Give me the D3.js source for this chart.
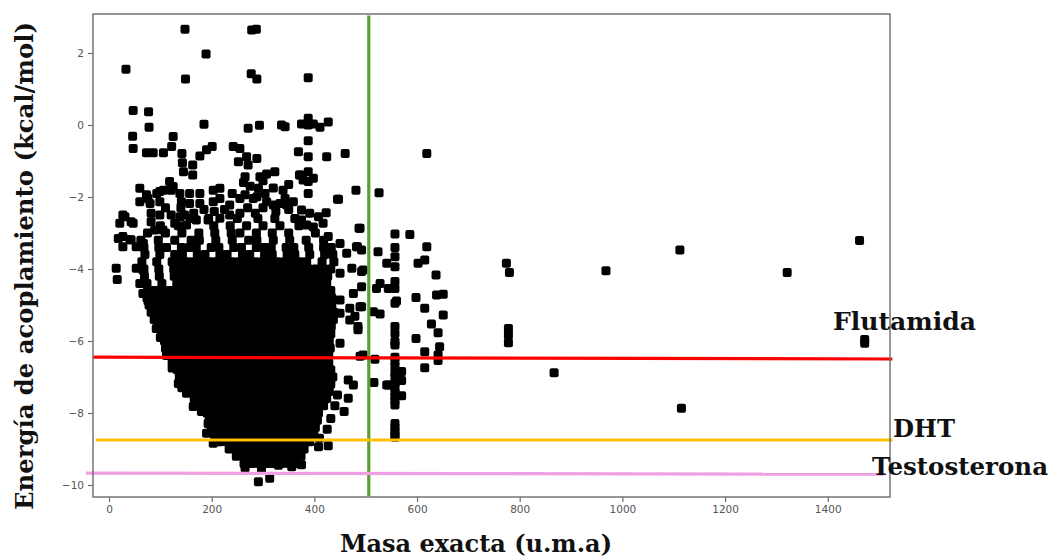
<!DOCTYPE html>
<html>
<head>
<meta charset="utf-8">
<script src="https://cdn.jsdelivr.net/npm/d3@7"></script>
<style>
  body { margin: 0; background: #fff; }
  svg { display: block; }
</style>
</head>
<body>
<svg id="chart" width="1051" height="559"></svg>
<script>
// Docking energy (kcal/mol) against exact mass (u.m.a) for the screened compounds.

// Isolated compounds in the upper part of the plot: [mass, energy]
const upperPoints = [
  [148,2.66],[278,2.64],[287,2.66],[189,1.97],[33,1.55],[149,1.28],[277,1.42],[288,1.28],[388,1.31],
  [47,0.40],[77,0.37],[78,-0.06],[46,-0.31],[47,-0.65],[185,0.02],[271,-0.09],[293,-0.01],[336,0.0],
  [343,-0.05],[375,0.03],[388,0.19],[388,0.0],[398,0.03],[411,-0.06],[427,0.08],[388,-0.44],
  [73,-0.77],[86,-0.77],[106,-0.77],[122,-0.60],[125,-0.32],[142,-0.79],[143,-1.05],[145,-1.30],
  [163,-1.11],[163,-1.39],[177,-0.86],[190,-0.69],[201,-0.60],[242,-0.60],[255,-0.65],[252,-1.02],
  [268,-0.88],[271,-1.11],[288,-0.93],[265,-1.44],[294,-1.44],[307,-1.36],[323,-1.30],
  [369,-0.74],[388,-0.88],[424,-0.88],[460,-0.79],[371,-1.39],[388,-1.30],[398,-1.48],[378,-1.53],
  [388,-1.57],[619,-0.79],[481,-1.81],[447,-2.06],[489,-2.87],[484,-3.38],[492,-3.47]
];

// Scattered compounds around the top and left rim of the main cloud: [mass, energy]
const rimPoints = [
  [118,-1.57],[125,-1.71],[60,-1.76],[73,-1.94],[60,-2.13],[99,-1.85],[99,-2.13],[76,-2.04],[80,-2.18],
  [93,-1.90],[106,-1.81],[121,-1.81],[138,-1.90],[141,-2.13],[157,-1.90],[157,-2.18],[177,-1.90],
  [177,-2.18],[203,-1.81],[203,-2.13],[216,-1.76],[216,-2.04],[235,-2.22],[255,-2.04],[240,-1.90],
  [291,-1.76],[288,-1.99],[304,-1.90],[307,-2.13],[339,-1.81],[343,-2.04],[359,-2.13],[320,-2.22],
  [333,-2.18],[346,-2.22],[265,-1.94],[281,-2.04],[262,-1.60],[275,-1.70],[300,-1.55],[320,-1.75],
  [350,-1.65],[372,-1.39],[388,-1.90],[445,-2.06],
  [27,-2.50],[21,-2.73],[43,-2.69],[31,-2.55],[47,-2.73],[82,-2.45],[82,-2.69],[99,-2.50],[89,-2.92],
  [105,-2.92],[121,-2.50],[128,-2.73],[138,-2.55],[147,-2.50],[151,-2.78],[170,-2.64],[193,-2.64],
  [216,-2.59],[235,-2.50],[255,-2.45],[110,-2.30],[140,-2.30],[165,-2.45],[185,-2.35],[205,-2.40],
  [225,-2.35],[270,-2.30],[285,-2.45],[300,-2.30],[325,-2.40],[350,-2.35],
  [375,-2.36],[391,-2.45],[408,-2.55],[423,-2.44],[375,-2.64],[385,-2.78],[398,-2.83],[417,-2.73],
  [427,-3.10],[450,-3.29],[463,-3.56],[482,-3.38],[487,-2.87],
  [27,-3.10],[27,-3.38],[43,-3.19],[53,-3.38],[18,-3.15],[41,-3.19],[67,-3.29],[14,-3.98],[16,-4.29],
  [53,-3.98],[66,-4.03],[60,-4.40],[66,-4.68],[76,-4.89],[89,-5.17],[89,-5.36],[92,-5.65],[100,-5.90],
  [112,-6.30],[123,-6.75],[132,-6.71],[135,-7.18],[142,-7.30],[151,-7.45],[164,-7.82],[180,-7.96]
];

// Compounds on the right and lower rim of the main cloud: [mass, energy]
const edgePoints = [
  [450,-4.12],[473,-3.98],[492,-4.07],[492,-4.49],[476,-4.68],[450,-4.86],[430,-4.95],[479,-5.31],
  [469,-5.09],[450,-5.23],[489,-5.05],[469,-5.42],[485,-5.60],[450,-6.06],[485,-5.69],[489,-6.42],
  [466,-7.08],[476,-7.22],[466,-7.59],[458,-7.96],[445,-7.50],[440,-7.80],[432,-8.15],[425,-8.45],
  [410,-8.70],[408,-8.94],[427,-8.91],[375,-8.98],[375,-9.44],[356,-9.49],[291,-9.91],[313,-9.81],
  [265,-9.52],[297,-9.55],[330,-9.45],[203,-8.84],[193,-8.29],[190,-8.56]
];

// Heavier compounds, beyond the mass cut-off: [mass, energy]
const heavyPoints = [
  [526,-1.88],[557,-3.03],[557,-3.40],[557,-3.66],[557,-3.94],[586,-3.04],[619,-3.38],[524,-3.52],
  [541,-3.84],[602,-3.84],[615,-3.75],[637,-4.17],[495,-4.03],[557,-4.35],[557,-4.54],[544,-4.54],
  [521,-4.54],[528,-4.40],[557,-4.95],[560,-4.89],[598,-4.79],[638,-4.72],[651,-4.70],[615,-5.09],
  [651,-5.28],[492,-5.05],[515,-5.19],[528,-5.25],[557,-5.60],[557,-5.79],[628,-5.53],[641,-5.77],
  [598,-5.93],[557,-6.02],[557,-6.11],[644,-6.16],[615,-6.30],[641,-6.39],[641,-6.54],[495,-6.39],
  [518,-6.51],[557,-6.45],[557,-6.57],[557,-6.71],[570,-6.85],[557,-6.88],[615,-6.74],[557,-7.00],
  [570,-7.10],[557,-7.18],[544,-7.22],[516,-7.15],[541,-7.22],[557,-7.30],[557,-7.42],[570,-7.52],
  [557,-7.55],[557,-7.66],[557,-7.78],[557,-8.29],[557,-8.40],[557,-8.50],[557,-8.61],[557,-8.67],
  [774,-3.84],[780,-4.10],[778,-5.65],[778,-5.83],[778,-6.05],[867,-6.88],[968,-4.05],[1112,-3.47],
  [1115,-7.87],[1321,-4.10],[1462,-3.21],[1472,-5.96],[1472,-6.06]
];

// Dense body of the cloud, one row per energy level: [energy, [masses]]
const cloudRows = [
  [-2.6, [158,194,250,290,323,362]],
  [-2.8, [100,135,204,236,268,300,333,370]],
  [-3.0, [75,110,142,175,206,238,255,287,318,350,402]],
  [-3.2, [62,96,128,160,176,208,240,272,288,320,352,384,418]],
  [-3.4, [68,97,112,141,156,170,199,214,243,258,287,302,316,345,360,389,418,433]],
  [-3.6, [70,99,128,143,172,187,216,230,260,274,303,318,347,362,391,420,436]],
  [-3.8, [64,93,123,137,152,166,181,196,210,225,239,254,269,283,298,312,327,342,356,371,385,415,438]],
  [-4.0, [68,97,126,141,155,170,184,199,214,228,243,257,272,287,301,316,330,345,360,374,389,403,418,432]],
  [-4.2, [69,98,127,142,157,171,186,200,215,230,244,259,273,288,303,317,332,346,361,376,390,405,419,426]],
  [-4.4, [74,103,132,147,162,176,191,205,220,235,249,264,278,293,308,322,337,351,366,381,395,410,424]],
  [-4.6, [75,89,104,118,133,148,162,177,191,206,221,235,250,264,279,294,308,323,337,352,367,381,396,410,425,432]],
  [-4.8, [74,88,103,117,132,147,161,176,190,205,220,234,249,263,278,293,307,322,336,351,366,380,395,409,424,434]],
  [-5.0, [78,93,107,122,136,151,166,180,195,209,224,239,253,268,282,297,312,326,341,355,370,385,399,414,428,434]],
  [-5.2, [82,96,111,126,140,155,169,184,199,213,228,242,257,272,286,301,315,330,345,359,374,388,403,418,432,438]],
  [-5.4, [88,103,117,132,146,161,176,190,205,219,234,249,263,278,292,307,322,336,351,365,380,395,409,424,437]],
  [-5.6, [98,113,127,142,156,171,186,200,215,229,244,259,273,288,302,317,332,346,361,375,390,405,419,433]],
  [-5.8, [104,118,133,147,162,177,191,206,220,235,250,264,279,293,308,323,337,352,366,381,396,410,425,432]],
  [-6.0, [108,123,137,152,166,181,196,210,225,239,254,269,283,298,312,327,342,356,371,385,400,415,429]],
  [-6.2, [110,124,139,153,168,183,197,212,226,241,256,270,285,299,314,329,343,358,372,387,402,416,431]],
  [-6.4, [112,127,141,156,170,185,200,214,229,243,258,273,287,302,316,331,346,360,375,389,404,419,428]],
  [-6.6, [123,138,152,167,181,196,211,225,240,254,269,284,298,313,327,342,357,371,386,400,415,428]],
  [-6.8, [133,148,162,177,191,206,221,235,250,264,279,294,308,323,337,352,367,381,396,410,425,432]],
  [-7.0, [137,152,166,181,195,210,225,239,254,268,283,298,312,327,341,356,371,385,400,414,429,436]],
  [-7.2, [140,155,169,184,198,213,228,242,257,271,286,301,315,330,344,359,374,388,403,417,432]],
  [-7.4, [152,167,181,196,210,225,240,254,269,283,298,313,327,342,356,371,386,400,415,429]],
  [-7.6, [166,181,195,210,224,239,254,268,283,297,312,327,341,356,370,385,400,414,424]],
  [-7.8, [177,192,206,221,235,250,265,279,294,308,323,338,352,367,381,396,411,418]],
  [-8.0, [191,206,220,235,249,264,279,293,308,322,337,352,366,381,395,408]],
  [-8.2, [195,210,224,239,253,268,283,297,312,326,341,356,370,385,399,406]],
  [-8.4, [199,214,228,243,257,272,287,301,316,330,345,360,374,389,402]],
  [-8.6, [205,220,234,249,263,278,293,307,322,336,351,366,380,394,399]],
  [-8.8, [216,231,245,260,274,289,304,318,333,347,362,377,391]],
  [-9.0, [234,249,263,278,292,307,322,336,351,365,380]],
  [-9.2, [248,263,277,292,306,321,336,350,365,374]],
  [-9.4, [263,278,292,307,321,336,351,364]]
];

// Reference ligands: docking energy of each, drawn as a horizontal line
const refNames = ["Flutamida", "DHT", "Testosterona"];
const refEnergyStart = [-6.45, -8.75, -9.67];
const refEnergyEnd = [-6.50, -8.75, -9.70];
const refMassStart = [-31, -26, -45];
const refMassEnd = [1526, 1526, 1509];
const refColors = ["#ff0000", "#ffc000", "#efa0e2"];

// Mass cut-off (vertical line)
const massCutoff = 506;

// Axis ticks
const xTicks = [0, 200, 400, 600, 800, 1000, 1200, 1400];
const yTicks = [2, 0, -2, -4, -6, -8, -10];

const svg = d3.select("#chart");
const plot = { left: 93, right: 890, top: 14, bottom: 497 };

const x = d3.scaleLinear().domain([-31.2, 1521.3]).range([plot.left, plot.right]);
const y = d3.scaleLinear().domain([3.083, -10.333]).range([plot.top, plot.bottom]);

const allPoints = upperPoints
  .concat(rimPoints, edgePoints, heavyPoints)
  .concat(cloudRows.flatMap(([e, masses]) => masses.map(m => [m, e])));

// Markers
const markerSize = 9;
svg.append("g")
  .selectAll("rect")
  .data(allPoints)
  .join("rect")
  .attr("x", d => x(d[0]) - markerSize / 2)
  .attr("y", d => y(d[1]) - markerSize / 2)
  .attr("width", markerSize)
  .attr("height", markerSize)
  .attr("rx", 2)
  .attr("fill", "#000");

// Mass cut-off line
svg.append("line")
  .attr("x1", x(massCutoff)).attr("x2", x(massCutoff))
  .attr("y1", y(3.04)).attr("y2", y(-10.31))
  .attr("stroke", "#5a9f32")
  .attr("stroke-width", 3.2);

// Reference lines
svg.append("g")
  .selectAll("line")
  .data(refNames.map((n, i) => i))
  .join("line")
  .attr("x1", i => x(refMassStart[i]))
  .attr("x2", i => x(refMassEnd[i]))
  .attr("y1", i => y(refEnergyStart[i]))
  .attr("y2", i => y(refEnergyEnd[i]))
  .attr("stroke", i => refColors[i])
  .attr("stroke-width", 3.2);

// Frame
svg.append("rect")
  .attr("x", plot.left).attr("y", plot.top)
  .attr("width", plot.right - plot.left).attr("height", plot.bottom - plot.top)
  .attr("fill", "none")
  .attr("stroke", "#6b6b6b")
  .attr("stroke-width", 1.4);

// Axes
const minus = d => (d < 0 ? "\u2212" + Math.abs(d) : String(d));
const xAxis = svg.append("g")
  .attr("transform", `translate(0,${plot.bottom})`)
  .call(d3.axisBottom(x).tickValues(xTicks).tickSize(5).tickPadding(4).tickFormat(d => String(d)));
const yAxis = svg.append("g")
  .attr("transform", `translate(${plot.left},0)`)
  .call(d3.axisLeft(y).tickValues(yTicks).tickSize(5).tickPadding(4).tickFormat(minus));

[xAxis, yAxis].forEach(g => {
  g.select(".domain").remove();
  g.selectAll(".tick line").attr("stroke", "#6b6b6b").attr("stroke-width", 1.2);
  g.selectAll(".tick text")
    .attr("fill", "#555")
    .style("font-family", "'DejaVu Sans', sans-serif")
    .style("font-size", "10.5px");
});

// Titles and reference labels
const serif = "'DejaVu Serif', serif";
function boldText(sel, width, size) {
  return sel
    .style("font-family", serif).style("font-weight", "bold").style("font-size", (size || 25) + "px")
    .attr("fill", "#111")
    .attr("textLength", width)
    .attr("lengthAdjust", "spacingAndGlyphs");
}

boldText(svg.append("text")
  .attr("x", 340).attr("y", 552)
  .text("Masa exacta (u.m.a)"), 272, 24);

boldText(svg.append("text")
  .attr("transform", "translate(33,510) rotate(-90)")
  .text("Energía de acoplamiento (kcal/mol)"), 488);

const labelPos = [[833, 330], [893, 437], [872, 475]];
const labelWidth = [143, 62, 176];
refNames.forEach((name, i) => {
  boldText(svg.append("text")
    .attr("x", labelPos[i][0])
    .attr("y", labelPos[i][1])
    .text(name), labelWidth[i]);
});
</script>
</body>
</html>
